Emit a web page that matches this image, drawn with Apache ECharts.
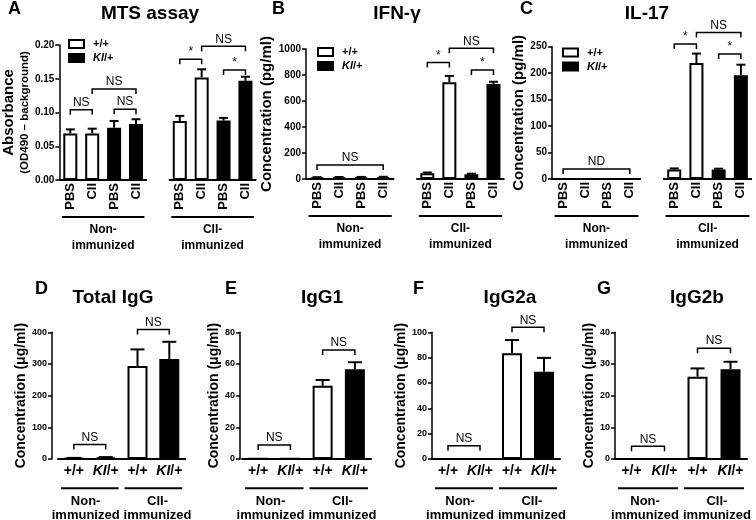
<!DOCTYPE html>
<html><head><meta charset="utf-8">
<script src="https://cdn.jsdelivr.net/npm/echarts@6/dist/echarts.min.js"></script>
<style>html,body{margin:0;padding:0;background:#fff}#c{width:756px;height:520px}</style>
</head><body><div id="c"></div>
<script>
// ================= DATA =================
// Top panels: slots = PBS, CII, PBS, CII, (gap), PBS, CII, PBS, CII
const topCategories = ['PBS', 'CII', 'PBS', 'CII', '', 'PBS', 'CII', 'PBS', 'CII'];
const bottomCategories = ['+/+', 'KI/+', '+/+', 'KI/+'];
const groupNames = ['Non-\nimmunized', 'CII-\nimmunized'];
const legendNames = ['+/+', 'KI/+'];

// value order: [Non-imm PBS, Non-imm CII, CII-imm PBS, CII-imm CII]
// A  MTS assay (absorbance)
const mtsWT = [0.069, 0.069, 0.0875, 0.152];
const mtsWTsem = [0.006, 0.007, 0.0075, 0.012];
const mtsKI = [0.0775, 0.083, 0.088, 0.147];
const mtsKIsem = [0.010, 0.007, 0.004, 0.006];
const mtsBrackets = [[0, 0.104, 1], [2, 0.105, 3], [1, 0.135, 3], [5, 0.179, 6], [6, 0.198, 8], [7, 0.163, 8]];
const mtsBracketText = ['NS', 'NS', 'NS', '*', 'NS', '*'];

// B  IFN-gamma (pg/ml)
const ifnWT = [12, 13, 45, 745];
const ifnWTsem = [2, 2, 5, 48];
const ifnKI = [14, 15, 37, 730];
const ifnKIsem = [2, 2, 4, 18];
const ifnBrackets = [[0, 108, 3], [5, 897, 6], [6, 1005, 8], [7, 838, 8]];
const ifnBracketText = ['NS', '*', 'NS', '*'];

// C  IL-17 (pg/ml) - non-immunized not detected
const il17WT = [null, null, 18, 219];
const il17WTsem = [0, 0, 2, 18];
const il17KI = [null, null, 18, 196];
const il17KIsem = [0, 0, 1.5, 20];
const il17Brackets = [[0, 19, 3], [5, 255, 6], [6, 277, 8], [7, 236, 8]];
const il17BracketText = ['ND', '*', 'NS', '*'];

// Bottom panels: value order [Non-immunized, CII-immunized]
// D Total IgG (ug/ml)
const totalWT = [3, 294];
const totalWTsem = [0.5, 52];
const totalKI = [5, 316];
const totalKIsem = [1, 54];
const totalBrackets = [[0, 46, 1], [2, 409, 3]];
// E IgG1
const igg1WT = [0.4, 46.2];
const igg1WTsem = [0, 3.7];
const igg1KI = [0.2, 56.6];
const igg1KIsem = [0, 4.5];
const igg1Brackets = [[0, 8.8, 1], [2, 68.8, 3]];
// F IgG2a
const igg2aWT = [0, 83.4];
const igg2aWTsem = [0, 10.5];
const igg2aKI = [0, 68.8];
const igg2aKIsem = [0, 11];
const igg2aBrackets = [[0, 10.5, 1], [2, 104, 3]];
// G IgG2b
const igg2bWT = [0, 26];
const igg2bWTsem = [0, 2.6];
const igg2bKI = [0, 28.3];
const igg2bKIsem = [0, 2.4];
const igg2bBrackets = [[0, 4, 1], [2, 35, 3]];
const bottomBracketText = ['NS', 'NS'];

// ================= BUILD =================
const FONT = "'Liberation Sans', Arial, Helvetica, sans-serif";
const BLACK = '#000';
const grids = [], xAxes = [], yAxes = [], series = [], titles = [], legends = [];
const measureCtx = document.createElement('canvas').getContext('2d');
function textWidth(str, font) { measureCtx.font = font; return Math.max.apply(null, str.split('\n').map(s => measureCtx.measureText(s).width)); }

const panels = [
  {kind: 'top', letter: 'A', title: 'MTS assay', wt: mtsWT, wtE: mtsWTsem, ki: mtsKI, kiE: mtsKIsem, br: mtsBrackets, brT: mtsBracketText,
   max: 0.2, interval: 0.05, dec: 2,
   name: '{a|Absorbance}\n{b|(OD490 \u2013 background)}', nameGap: 19,
   grid: {left: 55, top: 45, width: 201.4, height: 135}, legend: [68, 38.5], titleX: 150, letterX: 8},
  {kind: 'top', letter: 'B', title: 'IFN-\u03b3', wt: ifnWT, wtE: ifnWTsem, ki: ifnKI, kiE: ifnKIsem, br: ifnBrackets, brT: ifnBracketText,
   max: 1000, interval: 200, dec: 0, name: 'Concentration (pg/ml)', nameGap: 19,
   grid: {left: 306, top: 49, width: 198.5, height: 130}, legend: [317, 46.5], titleX: 397, letterX: 272},
  {kind: 'top', letter: 'C', title: 'IL-17', wt: il17WT, wtE: il17WTsem, ki: il17KI, kiE: il17KIsem, br: il17Brackets, brT: il17BracketText,
   max: 250, interval: 50, dec: 0, name: 'Concentration (pg/ml)', nameGap: 19,
   grid: {left: 552, top: 46.7, width: 200, height: 132.3}, legend: [562, 47], titleX: 647, letterX: 520},
  {kind: 'bottom', letter: 'D', title: 'Total IgG', wt: totalWT, wtE: totalWTsem, ki: totalKI, kiE: totalKIsem, br: totalBrackets, brT: bottomBracketText,
   max: 400, interval: 100, name: 'Concentration (\u03bcg/ml)', nameGap: 12, offset: 6,
   grid: {left: 58, top: 332.3, width: 127.2, height: 126.7}, titleX: 113, letterX: 35},
  {kind: 'bottom', letter: 'E', title: 'IgG1', wt: igg1WT, wtE: igg1WTsem, ki: igg1KI, kiE: igg1KIsem, br: igg1Brackets, brT: bottomBracketText,
   max: 80, interval: 20, name: 'Concentration (\u03bcg/ml)', nameGap: 11, offset: 2,
   grid: {left: 242, top: 332.3, width: 129, height: 126.7}, titleX: 322, letterX: 225},
  {kind: 'bottom', letter: 'F', title: 'IgG2a', wt: igg2aWT, wtE: igg2aWTsem, ki: igg2aKI, kiE: igg2aKIsem, br: igg2aBrackets, brT: bottomBracketText,
   max: 100, interval: 20, name: 'Concentration (\u03bcg/ml)', nameGap: 14, offset: 0,
   grid: {left: 432, top: 332.3, width: 128, height: 126.7}, titleX: 510, letterX: 413},
  {kind: 'bottom', letter: 'G', title: 'IgG2b', wt: igg2bWT, wtE: igg2bWTsem, ki: igg2bKI, kiE: igg2bKIsem, br: igg2bBrackets, brT: bottomBracketText,
   max: 40, interval: 10, name: 'Concentration (\u03bcg/ml)', nameGap: 13, offset: 0,
   grid: {left: 615, top: 332.3, width: 132, height: 126.7}, titleX: 697, letterX: 597}
];

function slotArray(vals, slots, n) {
  const arr = new Array(n).fill('-');
  vals.forEach((v, i) => { if (v !== null && v !== undefined) arr[slots[i]] = v; });
  return arr;
}
function errData(vals, errs, slots) {
  const out = [];
  vals.forEach((v, i) => { if (v !== null && errs[i] > 0) out.push([slots[i], v, errs[i]]); });
  return out;
}
function errRender(cap) {
  return function (params, api) {
    const x = api.value(0), v = api.value(1), e = api.value(2);
    const p0 = api.coord([x, v]), p1 = api.coord([x, v + e]);
    return {type: 'group', children: [
      {type: 'line', shape: {x1: p0[0], y1: p0[1], x2: p1[0], y2: p1[1]}, style: {stroke: BLACK, lineWidth: 2}},
      {type: 'line', shape: {x1: p1[0] - cap / 2, y1: p1[1], x2: p1[0] + cap / 2, y2: p1[1]}, style: {stroke: BLACK, lineWidth: 2}}
    ]};
  };
}
function bracketRender(labels) {
  return function (params, api) {
    const a = api.value(0), y = api.value(1), b = api.value(2);
    const p1 = api.coord([a, y]), p2 = api.coord([b, y]);
    return {type: 'group', children: [
      {type: 'polyline', shape: {points: [[p1[0], p1[1] + 5], [p1[0], p1[1]], [p2[0], p2[1]], [p2[0], p2[1] + 5]]},
       style: {stroke: BLACK, lineWidth: 1.5, fill: 'none'}},
      {type: 'text', x: (p1[0] + p2[0]) / 2, y: p1[1] - 1,
       style: {text: labels[params.dataIndex], font: '12px ' + FONT, fill: BLACK, align: 'center', verticalAlign: 'bottom'}}
    ]};
  };
}
function groupRender(cfg) {
  return function (params, api) {
    const s = api.value(0), e = api.value(2);
    const w = api.size([1, 0])[0];
    const ps = api.coord([s, 0]), pe = api.coord([e, 0]);
    const xs = ps[0] - w / 2, xe = pe[0] + w / 2, y0 = ps[1];
    const label = groupNames[params.dataIndex];
    const font = 'bold ' + cfg.fontSize + 'px ' + FONT;
    let cx = (xs + xe) / 2;
    if (cfg.spread) {
      // keep neighbouring group labels apart
      const half = textWidth(label, font) / 2 + 2;
      cx = params.dataIndex === 0 ? Math.min(cx, xe - half) : Math.max(cx, xs + half);
    }
    const ch = [];
    if (cfg.baseline) ch.push({type: 'line', shape: {x1: xs, y1: y0, x2: xe, y2: y0}, style: {stroke: BLACK, lineWidth: 2}});
    ch.push({type: 'line', shape: {x1: xs + cfg.inset, y1: y0 + cfg.ul, x2: xe - cfg.inset, y2: y0 + cfg.ul}, style: {stroke: BLACK, lineWidth: 2}});
    ch.push({type: 'text', x: cx, y: y0 + cfg.lab,
      style: {text: label, font: font, fill: BLACK, align: 'center', verticalAlign: 'top', lineHeight: cfg.lh}});
    return {type: 'group', children: ch};
  };
}

const kiRich = {fontStyle: 'italic', fontWeight: 'bold', fontFamily: FONT, color: BLACK};

panels.forEach((P, i) => {
  const top = P.kind === 'top';
  grids.push(Object.assign({containLabel: false}, P.grid));
  titles.push({text: P.letter, left: P.letterX, top: top ? 0 : 280, padding: 0,
    textStyle: {fontFamily: FONT, fontWeight: 'bold', fontSize: 18, color: BLACK}});
  titles.push({text: P.title, left: P.titleX, top: top ? 4 : 288, padding: 0, textAlign: 'center',
    textStyle: {fontFamily: FONT, fontWeight: 'bold', fontSize: 19, color: BLACK}});

  const nameStyle = top && i === 0 ? {
      rich: {a: {fontFamily: FONT, fontWeight: 'bold', fontSize: 15, lineHeight: 18, color: BLACK},
             b: {fontFamily: FONT, fontWeight: 'bold', fontSize: 11.5, lineHeight: 15, color: BLACK}}}
    : {fontFamily: FONT, fontWeight: 'bold', fontSize: top ? 15 : 14, color: BLACK};

  yAxes.push({gridIndex: i, type: 'value', min: 0, max: P.max, interval: P.interval, offset: P.offset || 0,
    axisLine: {show: true, lineStyle: {color: BLACK, width: 1.5}},
    axisTick: {show: true, length: 4, lineStyle: {color: BLACK, width: 1.5}},
    axisLabel: {color: BLACK, fontFamily: FONT, fontWeight: 'bold', fontSize: top ? 10 : 9, margin: 5,
      formatter: v => top ? v.toFixed(P.dec) : String(v)},
    splitLine: {show: false},
    name: P.name, nameLocation: 'middle', nameGap: P.nameGap, nameTextStyle: nameStyle});

  let wtSlots, kiSlots, n, groups, gcfg, barW, cap;
  if (top) {
    n = 9; wtSlots = [0, 1, 5, 6]; kiSlots = [2, 3, 7, 8];
    groups = [[0, 0, 3], [5, 0, 8]];
    gcfg = {baseline: true, ul: 37, lab: 42, inset: 2.5, fontSize: 12, lh: 16, spread: false};
    barW = 14; cap = 9;
    xAxes.push({gridIndex: i, type: 'category', data: topCategories,
      axisLine: {show: false}, axisTick: {show: false},
      axisLabel: {interval: 0, rotate: 90, margin: 3, color: BLACK, fontFamily: FONT, fontWeight: 'bold', fontSize: 13}});
    legends.push({orient: 'vertical', left: P.legend[0], top: P.legend[1], padding: 0, itemWidth: 15, itemHeight: 8, itemGap: 3,
      icon: 'rect', selectedMode: false, data: legendNames,
      formatter: nm => nm === 'KI/+' ? '{i|KI}/+' : nm,
      textStyle: {color: BLACK, fontFamily: FONT, fontWeight: 'bold', fontSize: 11, padding: [0, 0, 0, 4],
        rich: {i: Object.assign({fontSize: 11}, kiRich)}}});
  } else {
    n = 4; wtSlots = [0, 2]; kiSlots = [1, 3];
    groups = [[0, 0, 1], [2, 0, 3]];
    gcfg = {baseline: false, ul: 29.3, lab: 35.5, inset: 3, fontSize: 13, lh: 14, spread: true};
    barW = 20; cap = 14;
    xAxes.push({gridIndex: i, type: 'category', data: bottomCategories,
      axisLine: {show: true, lineStyle: {color: BLACK, width: 2}}, axisTick: {show: false},
      axisLabel: {interval: 0, margin: 5, color: BLACK, fontFamily: FONT, fontWeight: 'bold', fontSize: 14,
        formatter: v => v.replace('KI', '{i|KI}'),
        rich: {i: Object.assign({fontSize: 14}, kiRich)}}});
  }

  series.push({name: '+/+', type: 'bar', xAxisIndex: i, yAxisIndex: i, barWidth: barW, barGap: '-100%',
    data: slotArray(P.wt, wtSlots, n), itemStyle: {color: '#fff', borderColor: BLACK, borderWidth: 2}, silent: true});
  series.push({name: 'KI/+', type: 'bar', xAxisIndex: i, yAxisIndex: i, barWidth: barW, barGap: '-100%',
    data: slotArray(P.ki, kiSlots, n), itemStyle: {color: BLACK, borderColor: BLACK, borderWidth: 2}, silent: true});
  series.push({type: 'custom', xAxisIndex: i, yAxisIndex: i, silent: true, z: 3, encode: {x: 0, y: 1},
    renderItem: errRender(cap), data: errData(P.wt, P.wtE, wtSlots).concat(errData(P.ki, P.kiE, kiSlots))});
  series.push({type: 'custom', xAxisIndex: i, yAxisIndex: i, silent: true, z: 3, encode: {x: 0, y: 1},
    renderItem: bracketRender(P.brT), data: P.br});
  series.push({type: 'custom', xAxisIndex: i, yAxisIndex: i, silent: true, z: 3, encode: {x: 0, y: 1},
    renderItem: groupRender(gcfg), data: groups});
});

const chart = echarts.init(document.getElementById('c'), null, {renderer: 'canvas'});
chart.setOption({animation: false, backgroundColor: '#fff', title: titles, legend: legends,
  grid: grids, xAxis: xAxes, yAxis: yAxes, series: series, tooltip: {show: false}});
</script>
</body></html>
